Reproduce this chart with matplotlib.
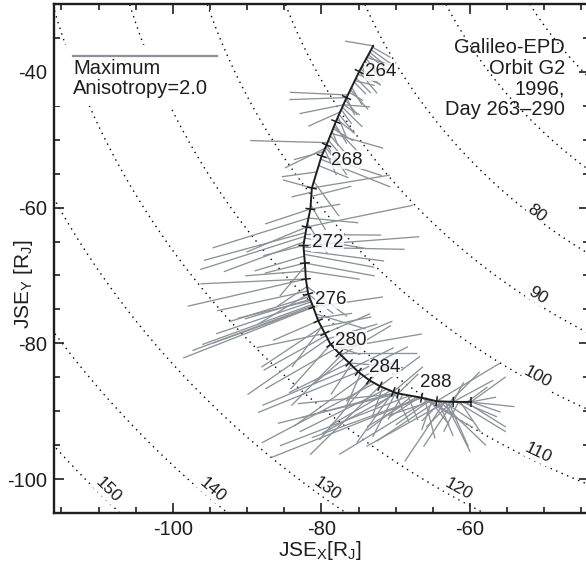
import numpy as np
import matplotlib
matplotlib.use('Agg')
import matplotlib.pyplot as plt
from matplotlib.ticker import MultipleLocator
from matplotlib.collections import LineCollection
from matplotlib.patches import Rectangle

plt.rcParams['font.family'] = ['Liberation Sans', 'DejaVu Sans']
plt.rcParams['axes.unicode_minus'] = False
plt.rcParams['mathtext.default'] = 'regular'

# ---------------- data ----------------
# Galileo trajectory (JSE x, y in R_J) at the daily tick marks (index 0 = start)
traj_x = [-73.02, -74.91, -76.61, -78.05, -79.30, -79.97, -81.28, -81.48, -81.99,
          -82.42, -82.22, -82.09, -81.78, -81.10, -80.43, -79.53, -78.76, -77.60,
          -76.26, -75.04, -73.56, -72.12, -70.33, -69.66, -66.51, -64.48, -62.25, -59.87]
traj_y = [-36.17, -39.96, -43.79, -47.33, -50.77, -52.39, -57.11, -60.21, -62.86,
          -65.59, -68.17, -70.53, -72.74, -74.66, -76.68, -78.54, -80.16, -81.49,
          -82.88, -84.20, -85.43, -86.31, -87.15, -87.39, -88.01, -88.53, -88.63, -88.63]

# labelled ticks (index into trajectory) and their day numbers
day_label_idx = [1, 5, 9, 12, 16, 20, 24]
day_labels = ['264', '268', '272', '276', '280', '284', '288']

# distance contours (R_J)
radii = [60, 70, 80, 90, 100, 110, 120, 130, 140, 150]
clabel_r = [80, 90, 100, 110, 120, 130, 140, 150]
clabel_x = [-50.98, -50.84, -50.84, -50.84, -61.58, -79.26, -94.61, -108.75]
clabel_y = [-60.80, -72.89, -84.99, -96.19, -101.46, -101.36, -101.65, -101.65]

# anisotropy vectors: origin along trajectory (tick index) and vector (R_J)
vec_s = [0.0, 0.05, 0.15, 0.25, 0.35, 0.5, 0.6, 0.75, 0.9, 1.1, 1.25, 1.4, 1.6, 1.8,
         2.1, 2.3, 2.5, 2.7, 2.9, 3.1, 3.3, 3.5, 3.6, 3.8, 4.2, 2.3, 1.9, 2.0, 2.3, 2.6,
         3.9, 4.3, 4.6, 5.0, 5.1, 5.3, 5.5, 7.5, 8.3, 8.5, 6.0, 6.2, 7.0, 8.0, 8.8, 9.0,
         6.0, 6.4, 7.0, 7.5, 8.0, 8.4, 8.6, 9.0, 9.1, 9.3, 9.5, 5.8, 6.8, 7.8,
         11.0, 11.0, 12.5, 13.0, 13.0, 12.8, 12.6, 12.9, 10.0, 10.5, 11.5, 12.0,
         10.0, 10.5, 11.5, 12.0, 13.5, 13.0,
         15.0, 15.2, 15.5, 14.0, 14.5, 16.0, 16.5, 17.0, 15.5, 16.0,
         18.5, 19.0, 20.5, 18.0, 19.5, 20.0, 18.0, 18.5, 19.5, 20.0,
         21.0, 21.5, 22.0, 22.5, 23.0, 23.5, 24.0, 24.0, 24.5, 25.0, 25.5, 26.0,
         23.0, 22.5, 24.2, 25.5, 25.0, 26.0, 26.2, 25.2, 24.0, 26.8, 27.0, 27.0,
         26.5, 25.8, 19.0, 21.0, 22.0, 23.0,
         17.5, 18.2, 19.2, 20.2, 21.2, 22.2, 23.2, 24.5, 25.3, 26.3,
         21.8, 22.8, 23.8, 24.8, 25.6, 14.5, 16.5, 17.2,
         12.2, 12.4, 11.8, 9.6, 10.2,
         14.5, 15.0, 16.2, 17.2, 13.8,
         22.4, 23.4, 23.9, 24.3, 24.7, 25.1, 25.4, 25.9, 26.4, 26.7, 26.9, 27.0,
         26.0, 24.6, 23.6, 25.7,
         0.45, 0.8, 1.0, 1.35, 1.7, 2.0, 2.4, 2.8, 3.2, 3.4, 4.0, 4.4]
vec_dx = [-3.8, 2.4, 2.7, 2.0, 3.0, 1.6, 2.4, 2.2, 2.7, 3.0, 2.0, 1.6, 1.4, 1.9,
          1.6, 2.2, 1.4, 1.9, 2.4, 1.6, 2.7, 7.0, 1.9, 1.4, 2.2, 3.6, -7.8, -7.7, -5.9, -4.3,
          -10.4, -5.4, -4.0, 8.1, 9.4, 4.0, -4.7, -12.9, -13.7, -14.1, -3.9, -2.7, -6.1, -8.1, -10.8, -5.4,
          10.5, 5.4, 4.0, 6.7, 14.3, 10.2, 8.1, 15.6, 13.6, 10.8, 9.4, 3.4, 2.0, 2.7,
          -15.9, -14.2, -9.8, -13.5, -17.5, -14.8, -12.8, -16.2, -5.4, -8.1, -4.0, -6.7,
          9.4, 7.3, 5.4, 3.4, 6.7, 9.4,
          -9.2, -8.4, -10.8, -6.1, -4.0, -5.4, 11.7, 10.5, 6.7, 4.0,
          -12.3, -13.5, -15.2, -8.1, -9.4, -6.7, 7.3, 5.4, 4.7, 3.4,
          -9.4, -11.7, -4.9, -3.1, -16.2, -17.5, -14.8, -20.2, -12.1, -8.1, -5.4, -4.0,
          -13.5, -12.8, 1.4, 3.4, 8.5, 5.4, 6.6, 6.2, 6.9, 2.7, 4.0, 3.4,
          4.7, 4.0, 6.7, 5.4, 4.0, 2.7,
          -4.0, -2.7, -2.0, -3.4, -1.4, 2.0, -2.0, 2.7, -2.7, -2.0,
          -8.1, -10.1, -6.7, -6.1, -10.8, -8.1, -9.4, -6.7,
          -10.8, -8.8, -12.2, -6.7, -3.4,
          6.7, 6.1, 8.1, 6.7, 4.7,
          -2.7, 1.4, -4.0, 3.4, -1.4, 2.0, 4.0, -3.4, 2.7, 5.4, 6.1, 4.7,
          1.4, -4.7, -6.1, 2.7,
          3.4, 1.1, 2.4, 2.7, 2.4, 1.1, 2.7, 1.1, 3.0, 0.8, 2.7, 1.6]
vec_dy = [0.7, -1.5, -2.1, -1.8, -2.6, -2.1, -2.9, -1.2, -2.4, -1.5, -2.2, -1.8, -2.6, -1.2,
          -2.2, -1.5, -2.1, -2.6, -2.1, -2.9, -1.8, -2.2, -2.4, -1.8, -3.2, -0.3, 0.4, -0.3, -1.3, -2.1,
          0.3, -2.9, -1.2, -2.9, -4.1, -1.8, -0.7, -4.4, -4.1, -4.9, 1.2, -0.7, -2.2, -3.7, -4.4, -1.5,
          1.9, 1.5, 0.7, -0.7, 3.2, -0.1, -1.5, 1.3, -0.3, -1.5, -1.9, -5.1, -3.7, -4.4,
          -4.0, -0.7, -2.6, -5.3, -7.5, -5.9, -4.7, -6.6, -1.5, -0.7, -2.9, -4.4,
          -1.9, -1.2, -4.4, -2.9, -2.2, 1.5,
          -2.1, -5.1, -8.2, -2.9, -5.9, -6.6, 2.2, 0.0, 2.2, -1.5,
          -5.6, -6.0, -8.8, -4.4, -7.4, -8.8, -0.7, 2.9, 2.2, 2.9,
          -10.1, -6.3, -7.5, -6.5, -4.4, -7.4, -5.9, -8.8, -8.1, -5.9, -8.8, -6.6,
          -1.5, -3.7, -5.9, -7.4, 5.6, 3.2, -4.4, -6.5, -4.4, 2.2, -1.5, 0.7,
          -2.2, 4.4, 3.7, 4.4, 3.7, 2.9,
          -3.7, -4.4, -5.1, -2.9, -4.4, -4.4, -3.7, -3.7, -2.9, -4.4,
          -5.1, -5.9, -4.4, -2.2, -6.6, -5.9, -5.9, -7.4,
          -3.7, -2.9, -2.9, -2.2, -4.4,
          1.5, 2.9, 3.7, 4.4, 0.7,
          -2.2, -3.7, -2.9, -2.2, -4.4, -5.1, -2.9, -3.7, -4.4, -3.7, -0.7, 3.7,
          2.9, -3.7, -5.1, -6.6,
          -1.2, -2.2, -3.2, -0.7, -2.9, -2.6, -2.9, -2.9, -3.5, -2.2, -4.4, -3.8]

legend_aniso = 2.0          # legend bar value
aniso_scale = 9.7           # R_J per unit anisotropy
legend_x0, legend_y0 = -113.47, -37.64

info_lines = ['Galileo-EPD', 'Orbit G2', '1996,', 'Day 263\u2013290']

# ---------------- figure ----------------
W, H = 586, 564
fig = plt.figure(figsize=(W / 100, H / 100), dpi=100)
ax = fig.add_axes([54 / W, (H - 513) / H, (589 - 54) / W, (513 - 4) / H])
ax.set_xlim(-116, -43.97)
ax.set_ylim(-105, -30)

GRAY = '#8d9298'
INK = '#1e1e1e'

# dotted distance contours
th = np.linspace(np.pi * 0.5, np.pi * 1.5, 2000)
for r in radii:
    ax.plot(r * np.cos(th), r * np.sin(th), color='black', lw=1.0,
            linestyle=(0, (1, 3.3)), zorder=1)

# white box behind legend
ax.add_patch(Rectangle((0.002, 0.80), 0.30, 0.12, transform=ax.transAxes,
                       facecolor='white', edgecolor='none', zorder=2))

# anisotropy vectors
tidx = np.arange(len(traj_x))
sx = np.interp(vec_s, tidx, traj_x)
sy = np.interp(vec_s, tidx, traj_y)
segs = [[(x0, y0), (x0 + dx, y0 + dy)] for x0, y0, dx, dy in zip(sx, sy, vec_dx, vec_dy)]
ax.add_collection(LineCollection(segs, colors=GRAY, linewidths=0.95, zorder=3))

# trajectory
ax.plot(traj_x, traj_y, color=INK, lw=1.4, zorder=4)

# perpendicular day ticks
fig.canvas.draw()
tD = ax.transData
inv = tD.inverted()
P = tD.transform(np.column_stack([traj_x, traj_y]))
tick_segs = []
half = 5.0
for i in range(1, len(traj_x)):
    a = P[max(i - 1, 0)]
    b = P[min(i + 1, len(traj_x) - 1)]
    d = b - a
    d = d / np.hypot(*d)
    n = np.array([-d[1], d[0]])
    p0 = inv.transform(P[i] - n * half)
    p1 = inv.transform(P[i] + n * half)
    tick_segs.append([tuple(p0), tuple(p1)])
ax.add_collection(LineCollection(tick_segs, colors=INK, linewidths=1.1, zorder=4))

# day labels
day_offsets = [(4, 0), (7, -3), (6, 2), (5, -4), (3, 3), (0, 9), (-1, 11)]
for i, lab, off in zip(day_label_idx, day_labels, day_offsets):
    ax.annotate(lab, (traj_x[i], traj_y[i]), xytext=off, textcoords='offset points',
                ha='left', va='center', fontsize=13.5, color=INK, zorder=6,
                bbox=dict(boxstyle='square,pad=0.03', fc='white', ec='none', alpha=0.8))

# contour labels
for r, x, y in zip(clabel_r, clabel_x, clabel_y):
    tx, ty = y, -x
    p1 = tD.transform((x, y))
    p2 = tD.transform((x + 0.01 * tx, y + 0.01 * ty))
    ang = np.degrees(np.arctan2(p2[1] - p1[1], p2[0] - p1[0]))
    if ang > 90:
        ang -= 180
    if ang < -90:
        ang += 180
    ax.text(x, y, str(r), rotation=ang, rotation_mode='anchor', ha='center', va='center',
            fontsize=12.5, color=INK, zorder=5,
            bbox=dict(boxstyle='square,pad=0.05', fc='white', ec='none'))

# legend
ax.plot([legend_x0, legend_x0 + legend_aniso * aniso_scale], [legend_y0, legend_y0],
        color=GRAY, lw=1.6, zorder=6)
ax.text(0.0355, 0.892, 'Maximum\nAnisotropy=%.1f' % legend_aniso, transform=ax.transAxes,
        ha='left', va='top', fontsize=14.5, linespacing=1.1, color=INK, zorder=6)

# info text
ax.text(0.955, 0.933, '\n'.join(info_lines), transform=ax.transAxes, ha='right', va='top',
        fontsize=14.5, linespacing=1.1, color=INK, zorder=6)

# axes styling
ax.xaxis.set_major_locator(MultipleLocator(20))
ax.xaxis.set_minor_locator(MultipleLocator(5))
ax.yaxis.set_major_locator(MultipleLocator(20))
ax.yaxis.set_minor_locator(MultipleLocator(5))
ax.tick_params(which='both', direction='in', top=True, right=True, width=1.2, color=INK)
ax.tick_params(which='major', length=7, labelsize=14.5, pad=5, labelcolor=INK)
ax.tick_params(which='minor', length=4)
for sp in ax.spines.values():
    sp.set_linewidth(1.7)
    sp.set_color(INK)

ax.set_xlabel('JSE$_{X}$[R$_{J}$]', fontsize=15, color=INK)
ax.xaxis.set_label_coords(0.497, -0.052)
ax.xaxis.label.set_va('top')
ax.set_ylabel('JSE$_{Y}$ [R$_{J}$]', fontsize=15, color=INK)
ax.yaxis.set_label_coords(-0.036, 0.45)

fig.savefig('out.png', dpi=100)
